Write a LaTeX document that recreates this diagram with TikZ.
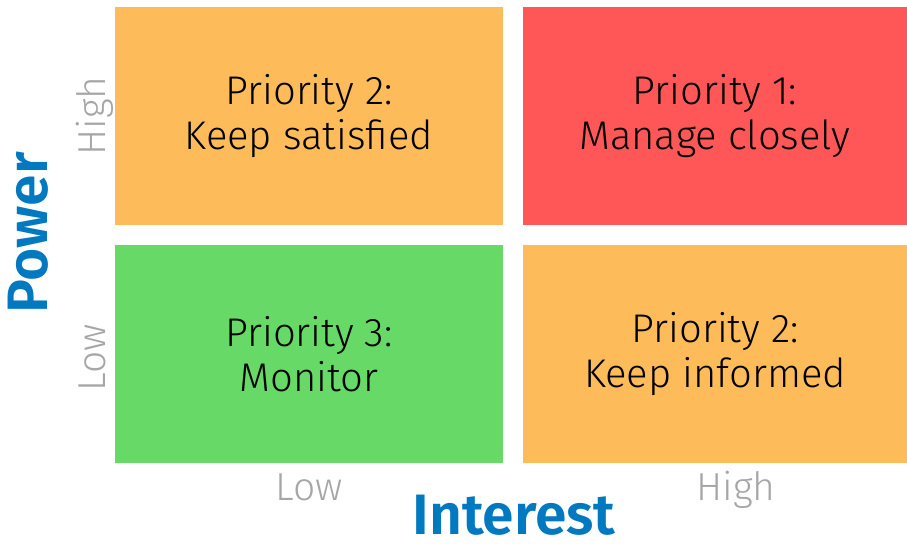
\documentclass[tikz,border=0pt]{standalone}
\usepackage{fontspec}
\setmainfont{Fira Sans}[UprightFont=* Light, BoldFont=* SemiBold]
\definecolor{prioorange}{HTML}{FDBB5A}
\definecolor{priored}{HTML}{FF5757}
\definecolor{priogreen}{HTML}{67D966}
\definecolor{axisblue}{HTML}{0079C1}
\definecolor{axisgrey}{HTML}{A6A6A6}
\tikzset{
  quad/.style={rectangle, minimum width=194pt, minimum height=109pt, inner sep=0pt,
    align=center, font=\fontsize{20pt}{22.5pt}\selectfont},
  level/.style={text=axisgrey, anchor=base, inner sep=0pt, font=\fontsize{19.5pt}{21pt}\selectfont},
  axis/.style={text=axisblue, anchor=base, inner sep=0pt, font=\fontsize{28.5pt}{30pt}\selectfont\bfseries}
}
\begin{document}
\begin{tikzpicture}[x=0.5pt, y=-0.5pt]
        \useasboundingbox (0,0) rectangle (907,543);
        % Quadrants
        \node[quad, fill=prioorange] (keepsat) at (309,116) {Priority 2:\\Keep satisfied};
        \node[quad, fill=priored, minimum width=192pt] (manage) at (715,116) {Priority 1:\\Manage closely};
        \node[quad, fill=priogreen] (monitor) at (309,354) {Priority 3:\\Monitor};
        \node[quad, fill=prioorange, minimum width=192pt] (keepinf) at (715,354) {Priority 2:\\Keep informed};

        % Levels
        \node[level, rotate=90] (powhigh) at (105,116) {High};
        \node[level, rotate=90] (powlow) at (105,358) {Low};
        \node[level] (intlow) at (309,500) {Low};
        \node[level] (inthigh) at (736,500) {High};

        % Axes
        \node[axis, rotate=90] (power) at (47,233) {Power};
        \node[axis] (interest) at (514,534) {Interest};
    \end{tikzpicture}
\end{document}
